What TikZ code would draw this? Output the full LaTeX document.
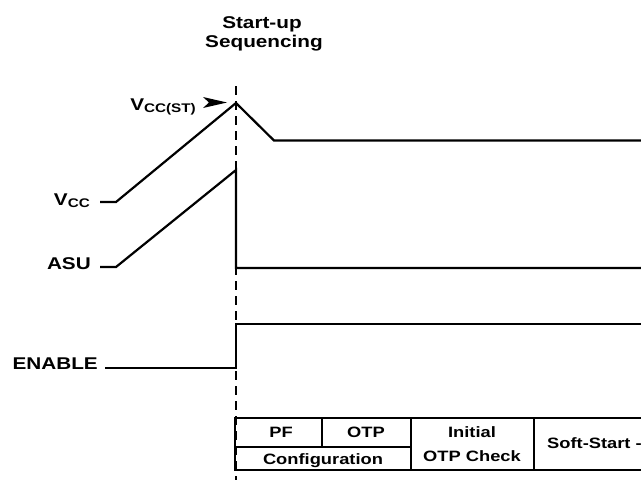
\documentclass[tikz,border=0pt]{standalone}
\usepackage{fontspec}
\setmainfont{Liberation Sans}[FakeStretch=1.22]
\newcommand\mysub[1]{\raisebox{-2pt}{\fontsize{12.5}{12.5}\selectfont #1}}
\begin{document}
\begin{tikzpicture}[x=1pt,y=-1pt,
  wave/.style={line width=2.2pt, line join=miter},
  lab/.style={font=\fontsize{17}{20}\selectfont\bfseries, inner sep=0pt},
  cell/.style={font=\fontsize{15}{18}\selectfont\bfseries, inner sep=0pt},
  box/.style={line width=2pt},
  dashline/.style={line width=2.2pt, dash pattern=on 9pt off 6pt}]
\useasboundingbox (0,0) rectangle (641,480);
% title
\node[lab, anchor=base] (t1) at (262,28.5) {Start-up};
\node[lab, anchor=base] (t2) at (264,47) {Sequencing};
% start-up marker line
\draw[dashline] (236,86) -- (236,480);
% labels
\node[lab, anchor=base east] (vst) at (196,110) {V\mysub{CC(ST)}};
\node[lab, anchor=base east] (vcc) at (90,205) {V\mysub{CC}};
\node[lab, anchor=base east] (asu) at (91,269.5) {ASU};
\node[lab, anchor=base east] (en) at (98,369.5) {ENABLE};
% pointer
\fill (203,97) -- (227,102.5) -- (203,108) -- (209,102.5) -- cycle;
% waveforms
\coordinate (peak) at (236,103);
\draw[wave] (100,202) -- (116,202) -- (peak) -- (274,140.5) -- (641,140.5);
\draw[wave] (100,267) -- (116,267) -- (236,170) -- (236,268) -- (641,268);
\draw[wave] (105,368) -- (236,368) -- (236,324) -- (641,324);
% table
\draw[box] (641,418) -- (235,418) -- (235,469.5) -- (641,469.5);
\draw[box] (235,446.5) -- (411,446.5);
\draw[box] (322,418) -- (322,446.5);
\draw[box] (411,418) -- (411,469.5);
\draw[box] (534,418) -- (534,469.5);
\node[cell, anchor=base] (pf) at (281,437) {PF};
\node[cell, anchor=base] (otp) at (366,437) {OTP};
\node[cell, anchor=base] (cfg) at (323,464.5) {Configuration};
\node[cell, anchor=base] (ini) at (472,437.5) {Initial};
\node[cell, anchor=base] (otpc) at (472,461) {OTP Check};
\node[cell, anchor=base west] (ss) at (547,448.5) {Soft-Start -};
\end{tikzpicture}
\end{document}
